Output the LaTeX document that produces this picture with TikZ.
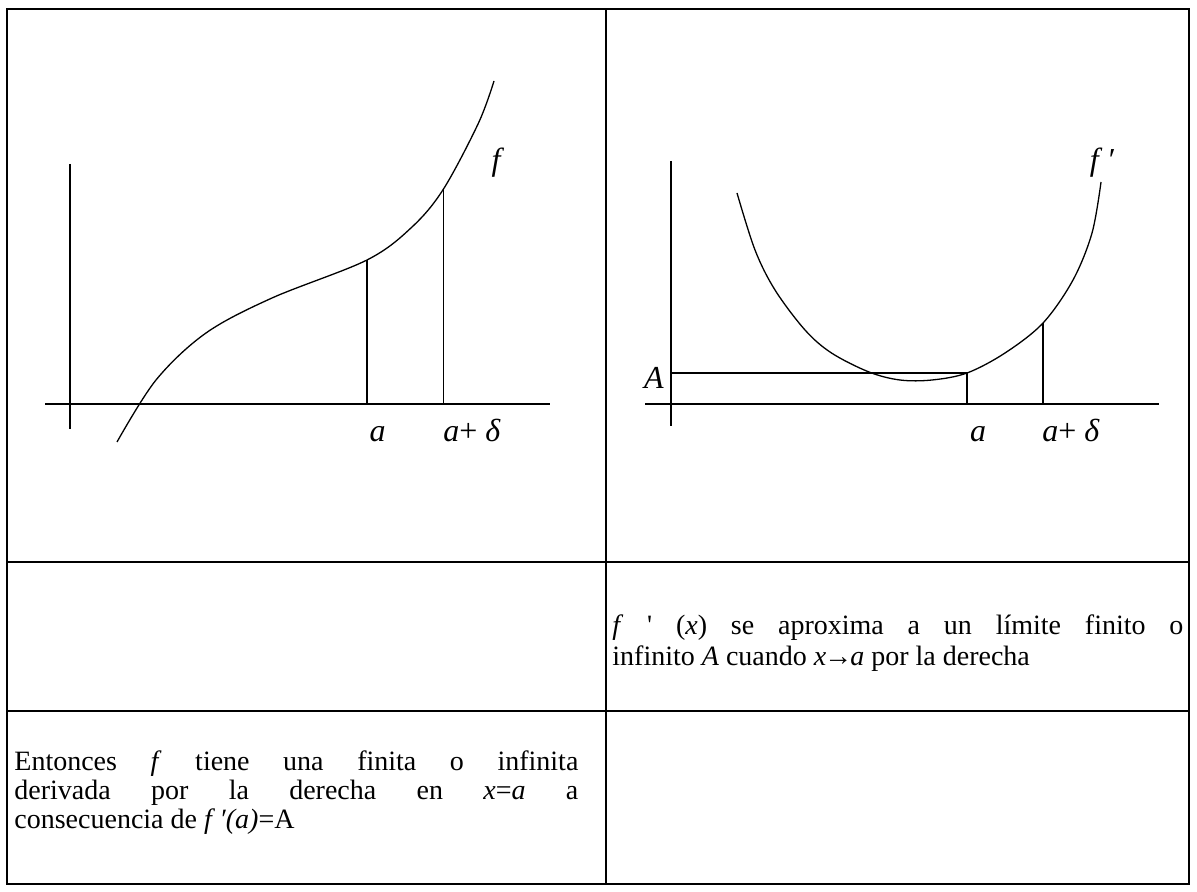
\documentclass[tikz,border=0pt]{standalone}
\usepackage{fontspec}
\setmainfont{Liberation Serif}
\usetikzlibrary{positioning}

\begin{document}
\begin{tikzpicture}[x=0.5pt, y=-0.5pt,
  lbl/.style={font=\fontsize{16}{18}\selectfont, inner sep=0pt},
  txt/.style={font=\fontsize{14}{14.5}\selectfont, inner sep=0pt, anchor=base west},
  rule/.style={draw=black, line width=1pt},
  axis/.style={draw=black, line width=0.65pt},
  curve/.style={draw=black, line width=0.65pt, smooth, tension=0.55}
]
\useasboundingbox (0,0) rectangle (1197,892);

% table frame
\draw[rule] (7,9) rectangle (1189,884);
\draw[rule] (606,9) -- (606,884);
\draw[rule] (7,562) -- (1189,562);
\draw[rule] (7,711) -- (1189,711);

% left graph: f
\draw[axis] (70,164) -- (70,429);
\draw[axis] (45,404) -- (550,404);
\draw[curve] plot coordinates {(117,442) (156,380) (206,333) (272,298) (367,260)
  (412,227) (443.5,189) (478.5,123) (494,81)};
\coordinate (fa) at (367,260);
\coordinate (fa0) at (367,404);
\coordinate (fd) at (443.5,189);
\coordinate (fd0) at (443.5,404);
\draw[axis] (fa) -- (fa0);
\draw[axis] (fd) -- (fd0);
\node[lbl] (lf) at (498,163) {\textit{f}};
\node[lbl, anchor=base] (la) at (377.5,441) {\textit{a}};
\node[lbl, anchor=base] (lad) at (472,441) {\textit{a}+ \textit{δ}};

% right graph: f'
\draw[axis] (671,161) -- (671,426);
\draw[axis] (645,404) -- (1159,404);
\draw[curve] plot coordinates {(737,193) (755,250) (775,290) (805,330) (831.5,353) (869,372)
  (900,380) (932,380) (967,373) (1005,353) (1043,323) (1073,280) (1092,233) (1101,182)};
\coordinate (ga) at (967,373);
\coordinate (ga0) at (967,404);
\coordinate (gA) at (671,373);
\coordinate (gd) at (1043,323);
\coordinate (gd0) at (1043,404);
\draw[axis] (gA) -- (ga);
\draw[axis] (ga) -- (ga0);
\draw[axis] (gd) -- (gd0);
\node[lbl] (rf) at (1102,163) {\textit{f ′}};
\node[lbl, anchor=base] (rA) at (654,388) {\textit{A}};
\node[lbl, anchor=base] (ra) at (978,441) {\textit{a}};
\node[lbl, anchor=base] (rad) at (1071,441) {\textit{a}+ \textit{δ}};

% cell texts
\node[txt] (hyp) at (612,634) {\parbox[t]{285.5pt}{\baselineskip=15.5pt
  \makebox[285.5pt][s]{\textit{f} \textquotesingle{} (\textit{x}) se aproxima a un límite finito o}\\
  infinito \textit{A} cuando \textit{x}\kern-1pt→\kern-1pt\textit{a} por la derecha}};

\node[txt] (con) at (14,770) {\parbox[t]{282pt}{%
  \makebox[282pt][s]{Entonces \textit{f} tiene una finita o infinita}\\
  \makebox[282pt][s]{derivada por la derecha en \textit{x}=\textit{a} a}\\
  consecuencia de \textit{f}\,\textit{′(a)}=A}};

\end{tikzpicture}
\end{document}
